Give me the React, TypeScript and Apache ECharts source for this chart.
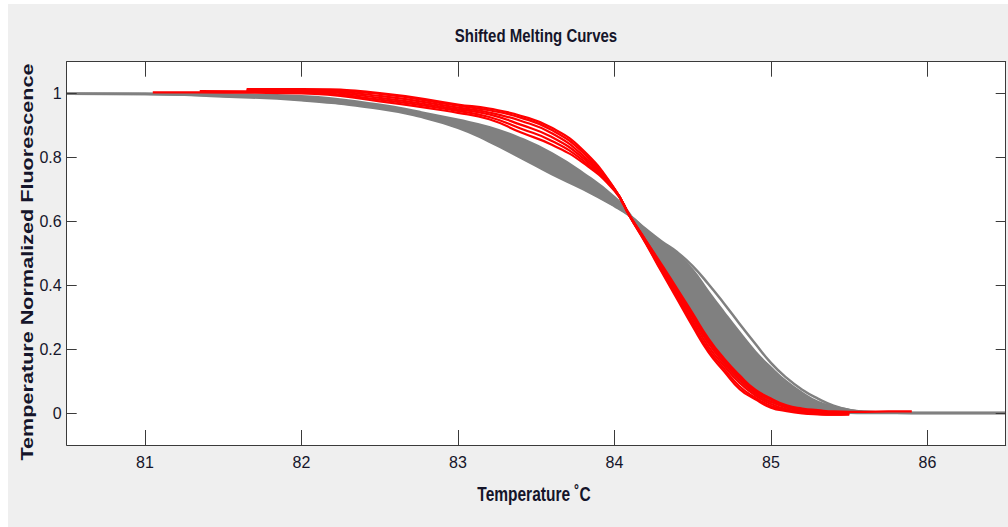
import React, { useEffect, useRef } from "react";
import * as echarts from "echarts";

// Temperature grid for the grey (reference) curves
const grayT = [80.5, 81.0, 81.5, 82.0, 82.5, 82.75, 83.0, 83.2, 83.4, 83.6, 83.8, 84.0, 84.1, 84.2, 84.3, 84.4, 84.5, 84.6, 84.7, 84.8, 84.9, 85.0, 85.1, 85.2, 85.3, 85.4, 85.5, 85.6, 85.8, 86.0, 86.5];
// upper grey edge on the left (becomes inner edge on the right)
const grayTop = [1.0, 1.0, 0.998, 0.992, 0.965, 0.943, 0.918, 0.895, 0.86, 0.813, 0.751, 0.676, 0.621, 0.535, 0.451, 0.376, 0.301, 0.226, 0.157, 0.101, 0.06, 0.035, 0.02, 0.012, 0.007, 0.004, 0.001, 0, 0, 0, 0];
// other edge of the dense grey band
const grayMid = [1.0, 0.999, 0.993, 0.982, 0.956, 0.932, 0.896, 0.853, 0.803, 0.752, 0.704, 0.65, 0.618, 0.573, 0.534, 0.498, 0.448, 0.38, 0.315, 0.252, 0.192, 0.142, 0.098, 0.063, 0.035, 0.02, 0.01, 0.004, 0.001, 0, 0];
// separated outer grey curve
const grayOuter = [1.0, 0.999, 0.991, 0.979, 0.953, 0.929, 0.893, 0.85, 0.8, 0.748, 0.701, 0.648, 0.617, 0.576, 0.538, 0.504, 0.46, 0.404, 0.343, 0.279, 0.217, 0.157, 0.11, 0.073, 0.045, 0.023, 0.01, 0.004, 0.001, 0, 0];

// Temperature grid for the red curves
const redT = [81.05, 81.35, 81.65, 82.0, 82.5, 83.0, 83.2, 83.4, 83.6, 83.8, 84.0, 84.1, 84.2, 84.3, 84.4, 84.5, 84.6, 84.7, 84.8, 84.9, 85.0, 85.1, 85.2, 85.3, 85.4, 85.5, 85.6, 85.75, 85.9];
const red1 = [null, null, 1.014, 1.014, 1.002, 0.966, 0.953, 0.931, 0.893, 0.823, 0.703, 0.614, 0.531, 0.443, 0.357, 0.271, 0.191, 0.131, 0.075, 0.043, 0.017, 0.006, -0.001, -0.004, -0.005, -0.004, null, null, null];
const red2 = [null, null, 1.012, 1.012, 0.999, 0.962, 0.948, 0.925, 0.886, 0.815, 0.702, 0.614, 0.533, 0.447, 0.363, 0.279, 0.199, 0.139, 0.083, 0.048, 0.022, 0.009, 0.001, -0.003, -0.005, -0.004, null, null, null];
const red3 = [null, null, 1.01, 1.009, 0.993, 0.956, 0.941, 0.915, 0.876, 0.806, 0.701, 0.615, 0.536, 0.453, 0.371, 0.288, 0.209, 0.148, 0.094, 0.055, 0.028, 0.012, 0.004, 0.0, -0.003, -0.003, null, null, null];
const red4 = [null, null, 1.008, 1.007, 0.987, 0.951, 0.935, 0.903, 0.864, 0.798, 0.7, 0.615, 0.538, 0.458, 0.379, 0.298, 0.219, 0.157, 0.104, 0.062, 0.035, 0.017, 0.008, 0.003, 0.0, -0.002, null, null, null];
const red5 = [null, 1.008, 1.007, 1.005, 0.981, 0.946, 0.927, 0.891, 0.852, 0.79, 0.698, 0.616, 0.54, 0.462, 0.385, 0.306, 0.228, 0.164, 0.112, 0.068, 0.042, 0.021, 0.011, 0.006, 0.002, 0.0, null, null, null];
const red6 = [1.004, 1.004, 1.003, 1.001, 0.976, 0.94, 0.92, 0.879, 0.84, 0.783, 0.696, 0.616, 0.541, 0.466, 0.39, 0.312, 0.234, 0.171, 0.118, 0.073, 0.046, 0.024, 0.014, 0.009, 0.005, 0.004, 0.004, 0.005, 0.005];

const xTickValues = [81, 82, 83, 84, 85, 86];
const yTickValues = [0, 0.2, 0.4, 0.6, 0.8, 1];

const titleText = "Shifted Melting Curves";
const xName = "Temperature \u02DAC";
const yName = "Temperature Normalized Fluorescence";

const GRAY = "#808080";
const RED = "#ff0000";
const AXIS = "#3a3a3a";
const TEXT = "#15152a";
const LABEL_FONT = "'Liberation Sans', Arial, sans-serif";

function pairs(xs: number[], ys: (number | null)[]) {
  return xs.map((x, i) => [x, ys[i]]);
}

export default function App() {
  const ref = useRef<HTMLDivElement>(null);
  useEffect(() => {
    if (!ref.current) return;
    const chart = echarts.init(ref.current, undefined, { renderer: "svg" });
    const bandHigh = grayT.map((t, i) => [t, Math.max(grayTop[i], grayMid[i])]);
    const bandLow = grayT.map((t, i) => [t, Math.min(grayTop[i], grayMid[i])]);
    const axisCommon = {
      type: "value" as const,
      z: 10,
      splitLine: { show: false },
      axisLine: { show: true, onZero: false, lineStyle: { color: AXIS, width: 1 } },
    };
    const redSeries = [red1, red2, red3, red4, red5, red6].map((arr, k) => ({
      name: "red" + (k + 1),
      type: "line",
      data: pairs(redT, arr),
      smooth: true,
      showSymbol: false,
      symbol: "none",
      z: 6,
      lineStyle: { color: RED, width: 2.2 },
    }));
    chart.setOption({
      animation: false,
      backgroundColor: "#efefef",
      grid: { left: 58.7, top: 57.7, right: 2.3, bottom: 82, show: true, backgroundColor: "#ffffff", borderWidth: 0 },
      xAxis: [
        {
          ...axisCommon,
          min: 80.5,
          max: 86.5,
          position: "bottom",
          axisTick: { show: true, inside: true, length: 15, customValues: xTickValues, lineStyle: { color: AXIS } },
          axisLabel: { show: true, customValues: xTickValues, margin: 9, fontSize: 16, fontFamily: LABEL_FONT, color: TEXT },
        },
        {
          ...axisCommon,
          min: 80.5,
          max: 86.5,
          position: "top",
          axisTick: { show: true, inside: true, length: 15, customValues: xTickValues, lineStyle: { color: AXIS } },
          axisLabel: { show: false },
        },
      ],
      yAxis: [
        {
          ...axisCommon,
          min: -0.1,
          max: 1.1,
          position: "left",
          axisTick: { show: true, inside: true, length: 10, customValues: yTickValues, lineStyle: { color: AXIS } },
          axisLabel: { show: true, customValues: yTickValues, margin: 5, fontSize: 16, fontFamily: LABEL_FONT, color: TEXT },
        },
        {
          ...axisCommon,
          min: -0.1,
          max: 1.1,
          position: "right",
          axisTick: { show: true, inside: true, length: 10, customValues: yTickValues, lineStyle: { color: AXIS } },
          axisLabel: { show: false },
        },
      ],
      series: [
        {
          name: "bandHigh",
          type: "line",
          data: bandHigh,
          smooth: true,
          symbol: "none",
          lineStyle: { width: 0, opacity: 0 },
          areaStyle: { color: GRAY, opacity: 1, origin: "start" },
          z: 2,
        },
        {
          name: "bandLow",
          type: "line",
          data: bandLow,
          smooth: true,
          symbol: "none",
          lineStyle: { width: 0, opacity: 0 },
          areaStyle: { color: "#ffffff", opacity: 1, origin: "start" },
          z: 3,
        },
        { name: "grayTop", type: "line", data: pairs(grayT, grayTop), smooth: true, symbol: "none", z: 4, lineStyle: { color: GRAY, width: 2.5 } },
        { name: "grayMid", type: "line", data: pairs(grayT, grayMid), smooth: true, symbol: "none", z: 4, lineStyle: { color: GRAY, width: 2.5 } },
        { name: "grayOuter", type: "line", data: pairs(grayT, grayOuter), smooth: true, symbol: "none", z: 4, lineStyle: { color: GRAY, width: 2.5 } },
        ...redSeries,
      ],
      graphic: [
        {
          type: "text",
          x: 528,
          y: 32,
          scaleY: 1.25,
          style: { text: titleText, font: "bold 15px 'Liberation Sans', Arial, sans-serif", fill: TEXT, align: "center", verticalAlign: "middle", textAlign: "center", textVerticalAlign: "middle" },
        },
        {
          type: "text",
          x: 526,
          y: 490,
          scaleY: 1.35,
          style: { text: xName, font: "bold 15.5px 'Liberation Sans', Arial, sans-serif", fill: TEXT, align: "center", verticalAlign: "middle", textAlign: "center", textVerticalAlign: "middle" },
        },
        {
          type: "text",
          x: 19,
          y: 258,
          rotation: Math.PI / 2,
          scaleX: 1.31,
          style: { text: yName, font: "bold 16.5px 'Liberation Sans', Arial, sans-serif", fill: TEXT, align: "center", verticalAlign: "middle", textAlign: "center", textVerticalAlign: "middle" },
        },
      ],
    });
    return () => chart.dispose();
  }, []);
  return (
    <div
      ref={ref}
      style={{ position: "absolute", left: 8, top: 4, width: 1000, height: 523, background: "#efefef" }}
    />
  );
}
